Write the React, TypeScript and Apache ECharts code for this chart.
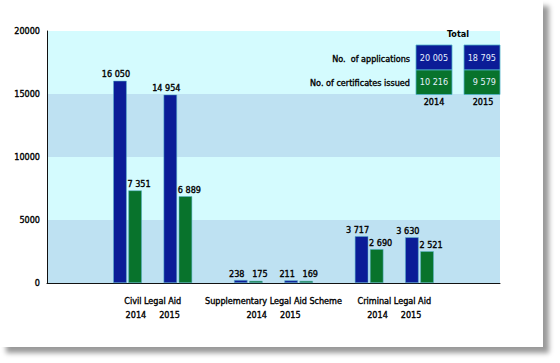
import React, { useEffect, useRef } from "react";
import * as echarts from "echarts";

// ---- data ----
const groups = ["Civil Legal Aid", "Supplementary Legal Aid Scheme", "Criminal Legal Aid"];
const years = ["2014", "2015"];
const applications = [16050, 14954, 238, 211, 3717, 3630];
const certificates = [7351, 6889, 175, 169, 2690, 2521];
const totalApplications = [20005, 18795];
const totalCertificates = [10216, 9579];
const yTicks = [0, 5000, 10000, 15000, 20000];
const rowLabels = ["No.  of applications", "No. of certificates issued"];
const totalTitle = "Total";

// ---- layout (category slots on a fine category axis) ----
const SLOT_COUNT = 91;
const BAR_SLOTS = [16, 26, 40, 50, 64, 74];
const GROUP_SLOTS = [21, 45, 69];

const FONT = '"DejaVu Sans Condensed", "Liberation Sans Narrow", "Arial Narrow", sans-serif';
const FS = 9;
const SW = 0.35; // faux semibold stroke
const BLUE = "#0b1c97";
const GREEN = "#08732c";

const fmt = (v: number) => String(v).replace(/\B(?=(\d{3})+(?!\d))/g, " ");

export default function App() {
  const ref = useRef<HTMLDivElement>(null);

  useEffect(() => {
    if (!ref.current) return;
    const chart = echarts.init(ref.current, undefined, { renderer: "svg" });

    const cats: string[] = new Array(SLOT_COUNT).fill("");
    GROUP_SLOTS.forEach((s, i) => (cats[s] = groups[i]));
    const appData: (number | string)[] = new Array(SLOT_COUNT).fill("-");
    const certData: (number | string)[] = new Array(SLOT_COUNT).fill("-");
    BAR_SLOTS.forEach((s, i) => {
      appData[s] = applications[i];
      certData[s] = certificates[i];
    });

    const textEl = (
      text: string,
      x: number,
      y: number,
      align: string,
      fill = "#000",
      weight = "normal",
      stroke = true
    ) => ({
      type: "text",
      x,
      y,
      z: 100,
      style: {
        text,
        fill,
        stroke: stroke ? fill : undefined,
        lineWidth: stroke ? SW : 0,
        fontFamily: FONT,
        fontSize: FS,
        fontWeight: weight,
        align,
        verticalAlign: "middle",
      },
    });

    const boxX = [416, 464];
    const boxW = 36;
    const graphic: any[] = [];
    graphic.push(textEl(totalTitle, 458, 33.5, "center", "#000", "bold", false));
    graphic.push(textEl(rowLabels[0], 410, 59, "right"));
    graphic.push(textEl(rowLabels[1], 410, 83, "right"));
    boxX.forEach((bx, i) => {
      graphic.push({
        type: "rect",
        z: 99,
        shape: { x: bx, y: 45, width: boxW, height: 25 },
        style: { fill: BLUE, stroke: "#4fb3c9", lineWidth: 0.8 },
      });
      graphic.push({
        type: "rect",
        z: 99,
        shape: { x: bx, y: 70, width: boxW, height: 24.5 },
        style: { fill: GREEN, stroke: "#4fb3c9", lineWidth: 0.8 },
      });
      const right = i === 1;
      const tx = right ? bx + boxW - 4 : bx + boxW / 2;
      const al = right ? "right" : "center";
      graphic.push(textEl(fmt(totalApplications[i]), tx, 57.5, al, "#e6f2ff", "normal", false));
      graphic.push(textEl(fmt(totalCertificates[i]), tx, 82, al, "#e6f2ff", "normal", false));
      graphic.push(textEl(years[i], bx + boxW / 2 + (right ? 1 : 0), 102, "center"));
    });

    const barLabel = (dx: number) => ({
      show: true,
      position: "top",
      distance: 2,
      offset: [dx, 0],
      color: "#000",
      textBorderColor: "#000",
      textBorderWidth: SW,
      fontFamily: FONT,
      fontSize: FS,
      formatter: (p: any) => fmt(p.value),
    });

    chart.setOption({
      animation: false,
      backgroundColor: "transparent",
      textStyle: { fontFamily: FONT },
      grid: { left: 47, right: 60, top: 31, bottom: 80, containLabel: false },
      xAxis: {
        type: "category",
        data: cats,
        boundaryGap: false,
        axisLine: { show: true, lineStyle: { color: "#111", width: 1 } },
        axisTick: { show: false },
        splitLine: { show: false },
        axisLabel: {
          interval: 0,
          margin: 11,
          color: "#000",
          textBorderColor: "#000",
          textBorderWidth: SW,
          fontFamily: FONT,
          fontSize: FS,
          lineHeight: 14,
          formatter: (v: string) =>
            v ? `${v}\n{y|${years[0]}}{g|}{y|${years[1]}}` : "",
          rich: {
            y: {
              fontFamily: FONT,
              fontSize: FS,
              color: "#000",
              textBorderColor: "#000",
              textBorderWidth: SW,
              lineHeight: 14,
            },
            g: { width: 13 },
          },
        },
      },
      yAxis: {
        type: "value",
        min: yTicks[0],
        max: yTicks[yTicks.length - 1],
        interval: yTicks[1] - yTicks[0],
        axisLine: { show: true, lineStyle: { color: "#111", width: 1 } },
        axisTick: { show: false },
        splitLine: { show: false },
        splitArea: { show: true, areaStyle: { color: ["#bee1f2", "#d4fbfe"] } },
        axisLabel: {
          margin: 7,
          color: "#000",
          textBorderColor: "#000",
          textBorderWidth: SW,
          fontFamily: FONT,
          fontSize: FS,
          formatter: (v: number) => String(v),
        },
      },
      series: [
        {
          type: "bar",
          name: "No. of applications",
          data: appData,
          barWidth: 13.5,
          barGap: "12%",
          itemStyle: { color: BLUE, borderColor: "rgba(90,180,205,0.9)", borderWidth: 0.6 },
          label: barLabel(-4),
        },
        {
          type: "bar",
          name: "No. of certificates issued",
          data: certData,
          barWidth: 13.5,
          barGap: "12%",
          itemStyle: { color: GREEN, borderColor: "rgba(90,180,205,0.9)", borderWidth: 0.6 },
          label: barLabel(4),
        },
      ],
      graphic,
    });

    return () => chart.dispose();
  }, []);

  return (
    <div style={{ position: "absolute", left: 0, top: 0, width: 560, height: 363, background: "#fff" }}>
      <div
        style={{
          position: "absolute",
          left: 0,
          top: 0,
          width: 543,
          height: 347,
          background: "#fff",
          boxShadow: "6px 6px 5px #9a9a9a",
        }}
      />
      <div ref={ref} style={{ position: "absolute", left: 0, top: 0, width: 560, height: 363 }} />
    </div>
  );
}
